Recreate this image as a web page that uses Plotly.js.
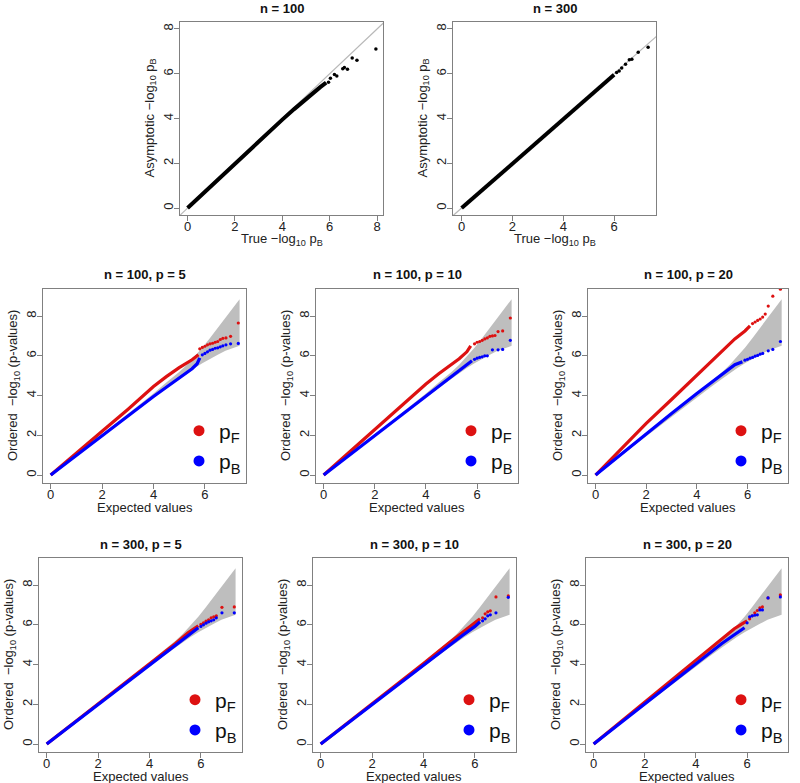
<!DOCTYPE html>
<html>
<head>
<meta charset="utf-8">
<script src="https://cdn.plot.ly/plotly-3.0.1.min.js"></script>
<style>
  html, body { margin: 0; padding: 0; background: #fff; }
  #qqGraphs { width: 800px; height: 783px; }
</style>
</head>
<body>
<div id="qqGraphs"></div>
<script>
/*globals document, Plotly*/

// ---- top row: asymptotic vs true -log10 pB (black points) ----
var n100X = [0, 1, 2, 3, 4, 4.5, 5.0, 5.3, 5.6, 5.85];
var n100Y = [0, 1, 2, 2.98, 3.95, 4.42, 4.88, 5.15, 5.4, 5.6];
var n100TailX = [5.95, 6.03, 6.2, 6.3, 6.55, 6.62, 6.75, 6.95, 7.15, 7.95];
var n100TailY = [5.62, 5.8, 5.97, 5.9, 6.22, 6.28, 6.2, 6.7, 6.6, 7.1];

var n300X = [0, 1, 2, 3, 4, 5, 5.6, 6.0];
var n300Y = [0, 1, 2, 3, 4, 4.98, 5.55, 5.95];
var n300TailX = [6.1, 6.2, 6.3, 6.45, 6.6, 6.7, 6.95, 7.34];
var n300TailY = [6.05, 6.12, 6.25, 6.42, 6.62, 6.65, 6.96, 7.18];

var diagLine = [-1, 10];

// ---- QQ band (shared by the six QQ panels) ----
var bandX = [0, 3, 4, 4.5, 5.0, 5.3, 5.6, 5.9, 6.2, 6.5, 6.8, 7.1, 7.35];
var bandHi = [0, 3.05, 4.1, 4.65, 5.18, 5.55, 5.95, 6.4, 6.9, 7.4, 7.9, 8.4, 8.85];
var bandLo = [0, 2.92, 3.9, 4.38, 4.85, 5.12, 5.38, 5.62, 5.85, 6.05, 6.25, 6.4, 6.5];

// ---- n = 100, p = 5 ----
var q1RedX = [0, 1, 2, 3, 4, 4.5, 5, 5.5, 5.75];
var q1RedY = [0, 1.08, 2.2, 3.3, 4.45, 4.95, 5.4, 5.8, 6.05];
var q1RedTailX = [5.8, 5.9, 6.0, 6.1, 6.2, 6.3, 6.4, 6.5, 6.6, 6.7, 6.82, 7.0, 7.3];
var q1RedTailY = [6.35, 6.42, 6.48, 6.55, 6.6, 6.63, 6.68, 6.72, 6.82, 6.88, 6.9, 6.98, 7.65];
var q1BlueX = [0, 1, 2, 3, 4, 4.5, 5, 5.3, 5.5, 5.7, 5.8];
var q1BlueY = [0, 1.0, 2.0, 3.0, 3.95, 4.42, 4.88, 5.15, 5.35, 5.6, 5.9];
var q1BlueTailX = [5.9, 6.0, 6.1, 6.2, 6.3, 6.4, 6.5, 6.6, 6.7, 6.82, 7.0, 7.3];
var q1BlueTailY = [6.05, 6.12, 6.2, 6.28, 6.32, 6.38, 6.4, 6.45, 6.5, 6.55, 6.6, 6.62];

// ---- n = 100, p = 10 ----
var q2RedX = [0, 1, 2, 3, 4, 4.5, 5, 5.3, 5.6, 5.75];
var q2RedY = [0, 1.15, 2.3, 3.45, 4.58, 5.1, 5.55, 5.85, 6.2, 6.5];
var q2RedTailX = [5.9, 6.0, 6.1, 6.2, 6.3, 6.4, 6.5, 6.6, 6.7, 6.82, 7.0, 7.3];
var q2RedTailY = [6.6, 6.68, 6.72, 6.78, 6.85, 6.9, 6.98, 7.0, 7.02, 7.22, 7.25, 7.9];
var q2BlueX = [0, 1, 2, 3, 4, 4.5, 5, 5.5, 5.8];
var q2BlueY = [0, 1.0, 2.0, 3.0, 4.0, 4.5, 5.0, 5.5, 5.75];
var q2BlueTailX = [5.9, 6.0, 6.1, 6.2, 6.3, 6.4, 6.6, 6.82, 7.0, 7.3];
var q2BlueTailY = [5.82, 5.88, 5.92, 5.95, 6.0, 6.0, 6.3, 6.3, 6.32, 6.78];

// ---- n = 100, p = 20 ----
var q3RedX = [0, 1, 2, 3, 4, 5, 5.5, 5.9, 6.1];
var q3RedY = [0, 1.3, 2.6, 3.8, 5.0, 6.2, 6.85, 7.25, 7.5];
var q3RedTailX = [6.2, 6.3, 6.4, 6.5, 6.6, 6.7, 6.82, 7.0, 7.3];
var q3RedTailY = [7.62, 7.7, 7.78, 7.85, 7.95, 8.1, 8.5, 9.0, 9.35];
var q3BlueX = [0, 1, 2, 3, 4, 5, 5.5, 5.8];
var q3BlueY = [0, 1.05, 2.1, 3.1, 4.1, 5.05, 5.55, 5.7];
var q3BlueTailX = [5.9, 6.0, 6.1, 6.2, 6.3, 6.4, 6.5, 6.6, 6.82, 7.0, 7.3];
var q3BlueTailY = [5.78, 5.82, 5.88, 5.92, 5.98, 6.02, 6.08, 6.12, 6.25, 6.32, 6.72];

// ---- n = 300, p = 5 ----
var q4RedX = [0, 1, 2, 3, 4, 4.5, 5, 5.5, 5.9];
var q4RedY = [0, 1, 2, 3, 4.02, 4.55, 5.05, 5.6, 5.95];
var q4RedTailX = [6.0, 6.1, 6.2, 6.3, 6.4, 6.5, 6.6, 6.82, 7.3];
var q4RedTailY = [6.02, 6.1, 6.18, 6.25, 6.35, 6.4, 6.45, 6.88, 6.9];
var q4BlueX = [0, 1, 2, 3, 4, 4.5, 5, 5.5, 5.9];
var q4BlueY = [0, 1, 2, 3, 3.98, 4.48, 4.95, 5.5, 5.85];
var q4BlueTailX = [6.0, 6.1, 6.2, 6.3, 6.4, 6.5, 6.6, 6.82, 7.3];
var q4BlueTailY = [5.92, 6.0, 6.08, 6.15, 6.2, 6.25, 6.35, 6.6, 6.6];

// ---- n = 300, p = 10 ----
var q5RedX = [0, 1, 2, 3, 4, 5, 5.5, 6.0, 6.2];
var q5RedY = [0, 1, 2, 3, 4.05, 5.1, 5.6, 6.05, 6.3];
var q5RedTailX = [6.3, 6.4, 6.5, 6.6, 6.82, 7.3];
var q5RedTailY = [6.35, 6.55, 6.65, 6.7, 7.4, 7.45];
var q5BlueX = [0, 1, 2, 3, 4, 5, 5.5, 6.0, 6.2];
var q5BlueY = [0, 1, 2, 3, 3.98, 4.95, 5.45, 5.92, 6.15];
var q5BlueTailX = [6.3, 6.4, 6.5, 6.6, 6.82, 7.3];
var q5BlueTailY = [6.2, 6.3, 6.45, 6.5, 6.6, 7.38];

// ---- n = 300, p = 20 ----
var q6RedX = [0, 1, 2, 3, 4, 5, 5.5, 5.8, 6.0];
var q6RedY = [0, 1.05, 2.1, 3.15, 4.2, 5.28, 5.8, 6.05, 6.2];
var q6RedTailX = [6.1, 6.2, 6.3, 6.4, 6.5, 6.6, 6.82, 7.3];
var q6RedTailY = [6.3, 6.45, 6.6, 6.72, 6.85, 6.9, 7.35, 7.5];
var q6BlueX = [0, 1, 2, 3, 4, 5, 5.5, 5.9];
var q6BlueY = [0, 1.02, 2.02, 3.05, 4.05, 5.05, 5.5, 5.85];
var q6BlueTailX = [6.0, 6.1, 6.2, 6.3, 6.4, 6.5, 6.6, 6.82, 7.3];
var q6BlueTailY = [6.1, 6.4, 6.45, 6.48, 6.5, 6.75, 6.75, 7.35, 7.4];


var W = 800, H = 783;
var FONT = '"Liberation Sans", Arial, Helvetica, sans-serif';
var RED = '#dd1111', BLUE = '#0000ff', BAND = '#bebebe', BOX = '#808080', TXT = '#222';

var TRUE_TITLE = 'True \u2212log<sub>10</sub> p<sub>B</sub>';
var ASYM_TITLE = 'Asymptotic \u2212log<sub>10</sub> p<sub>B</sub>';
var ORD_TITLE = 'Ordered  \u2212log<sub>10</sub> (p-values)';
var EXP_TITLE = 'Expected values';

var QQ_X = [-0.3, 7.6];
var QQ_Y = [-0.4, 9.36];

// box = [left, right, top, bottom] in pixels
var panels = [
  {title: 'n = 100', box: [180, 383, 22, 215], xr: [-0.32, 8.25], yr: [-0.31, 8.31],
    xt: TRUE_TITLE, yt: ASYM_TITLE, pts: [n100X, n100Y, n100TailX, n100TailY]},
  {title: 'n = 300', box: [453, 656, 22, 215], xr: [-0.34, 7.65], yr: [-0.31, 8.31],
    xt: TRUE_TITLE, yt: ASYM_TITLE, pts: [n300X, n300Y, n300TailX, n300TailY]},
  {title: 'n = 100, p = 5', box: [43, 246, 289, 483], xr: QQ_X, yr: QQ_Y, xt: EXP_TITLE, yt: ORD_TITLE,
    red: [q1RedX, q1RedY, q1RedTailX, q1RedTailY], blue: [q1BlueX, q1BlueY, q1BlueTailX, q1BlueTailY]},
  {title: 'n = 100, p = 10', box: [316, 518, 289, 483], xr: QQ_X, yr: QQ_Y, xt: EXP_TITLE, yt: ORD_TITLE,
    red: [q2RedX, q2RedY, q2RedTailX, q2RedTailY], blue: [q2BlueX, q2BlueY, q2BlueTailX, q2BlueTailY]},
  {title: 'n = 100, p = 20', box: [588, 788, 289, 483], xr: QQ_X, yr: QQ_Y, xt: EXP_TITLE, yt: ORD_TITLE,
    red: [q3RedX, q3RedY, q3RedTailX, q3RedTailY], blue: [q3BlueX, q3BlueY, q3BlueTailX, q3BlueTailY]},
  {title: 'n = 300, p = 5', box: [39, 242, 558, 752], xr: QQ_X, yr: QQ_Y, xt: EXP_TITLE, yt: ORD_TITLE,
    red: [q4RedX, q4RedY, q4RedTailX, q4RedTailY], blue: [q4BlueX, q4BlueY, q4BlueTailX, q4BlueTailY]},
  {title: 'n = 300, p = 10', box: [313, 516, 558, 752], xr: QQ_X, yr: QQ_Y, xt: EXP_TITLE, yt: ORD_TITLE,
    red: [q5RedX, q5RedY, q5RedTailX, q5RedTailY], blue: [q5BlueX, q5BlueY, q5BlueTailX, q5BlueTailY]},
  {title: 'n = 300, p = 20', box: [586, 788, 558, 752], xr: QQ_X, yr: QQ_Y, xt: EXP_TITLE, yt: ORD_TITLE,
    red: [q6RedX, q6RedY, q6RedTailX, q6RedTailY], blue: [q6BlueX, q6BlueY, q6BlueTailX, q6BlueTailY]}
];

function makeAxis(range, domain, anchor, isY) {
  return {
    domain: domain, anchor: anchor, range: range, tick0: 0, dtick: 2,
    ticks: 'outside', ticklen: 5, tickwidth: 1, tickcolor: BOX,
    ticklabelstandoff: isY ? -4 : -6,
    showline: true, mirror: true, linecolor: BOX, linewidth: 1,
    showgrid: false, zeroline: false, fixedrange: true,
    tickangle: isY ? -90 : 0,
    tickfont: {family: FONT, size: 13, color: TXT}
  };
}

function label(text, x, y, angle, bold) {
  return {
    text: bold ? '<b>' + text + '</b>' : text,
    xref: 'paper', yref: 'paper', x: x / W, y: 1 - y / H,
    xanchor: 'center', yanchor: 'middle', showarrow: false, textangle: angle || 0,
    font: {family: FONT, size: 13, color: bold ? '#111' : TXT}
  };
}

var traces = [];
var layout = {
  width: W, height: H,
  margin: {l: 0, r: 0, t: 0, b: 0},
  paper_bgcolor: '#fff', plot_bgcolor: '#fff',
  showlegend: true,
  annotations: []
};

var qqCount = 0;
panels.forEach(function (p, i) {
  var num = i === 0 ? '' : String(i + 1);
  var xa = 'x' + num, ya = 'y' + num;
  var b = p.box;
  var cx = (b[0] + b[1]) / 2, cy = (b[2] + b[3]) / 2;
  layout['xaxis' + num] = makeAxis(p.xr, [b[0] / W, b[1] / W], ya, false);
  layout['yaxis' + num] = makeAxis(p.yr, [1 - b[3] / H, 1 - b[2] / H], xa, true);

  // panel title and axis titles
  layout.annotations.push(label(p.title, cx, b[2] - 14, 0, true));
  layout.annotations.push(label(p.xt, cx, b[3] + 24, 0, false));
  layout.annotations.push(label(p.yt, b[0] - 30, cy, -90, false));

  if (p.pts) {
    traces.push({x: diagLine, y: diagLine, xaxis: xa, yaxis: ya, mode: 'lines',
      line: {color: '#b8b8b8', width: 1.2}, showlegend: false, hoverinfo: 'skip'});
    traces.push({x: p.pts[0], y: p.pts[1], xaxis: xa, yaxis: ya, mode: 'lines',
      line: {color: '#000', width: 4}, showlegend: false});
    traces.push({x: p.pts[2], y: p.pts[3], xaxis: xa, yaxis: ya, mode: 'markers',
      marker: {color: '#000', size: 3.5}, showlegend: false});
    return;
  }

  qqCount++;
  var legId = qqCount === 1 ? 'legend' : 'legend' + qqCount;

  // confidence band polygon
  traces.push({
    x: bandX.concat(bandX.slice().reverse()),
    y: bandHi.concat(bandLo.slice().reverse()),
    xaxis: xa, yaxis: ya, mode: 'lines', fill: 'toself', fillcolor: BAND,
    line: {width: 0, color: BAND}, showlegend: false, hoverinfo: 'skip'
  });

  [[p.red, RED], [p.blue, BLUE]].forEach(function (s) {
    var d = s[0], col = s[1];
    traces.push({x: d[0], y: d[1], xaxis: xa, yaxis: ya, mode: 'lines',
      line: {color: col, width: 3.2}, showlegend: false});
    traces.push({x: d[2], y: d[3], xaxis: xa, yaxis: ya, mode: 'markers',
      marker: {color: col, size: 3.2}, showlegend: false});
  });

  // legend entries
  traces.push({x: [null], y: [null], xaxis: xa, yaxis: ya, mode: 'markers',
    name: 'p<sub>F</sub>', legend: legId, marker: {color: RED, size: 11}});
  traces.push({x: [null], y: [null], xaxis: xa, yaxis: ya, mode: 'markers',
    name: 'p<sub>B</sub>', legend: legId, marker: {color: BLUE, size: 11}});

  layout[legId] = {
    x: (b[1] - 47 - 20) / W, xanchor: 'left',
    y: 1 - (b[3] - 37) / H, yanchor: 'middle',
    bgcolor: 'rgba(0,0,0,0)', borderwidth: 0,
    itemsizing: 'trace', itemclick: false, itemdoubleclick: false,
    font: {family: FONT, size: 21, color: '#111'}
  };
});

Plotly.newPlot('qqGraphs', traces, layout, {staticPlot: true, displayModeBar: false});
</script>
</body>
</html>
